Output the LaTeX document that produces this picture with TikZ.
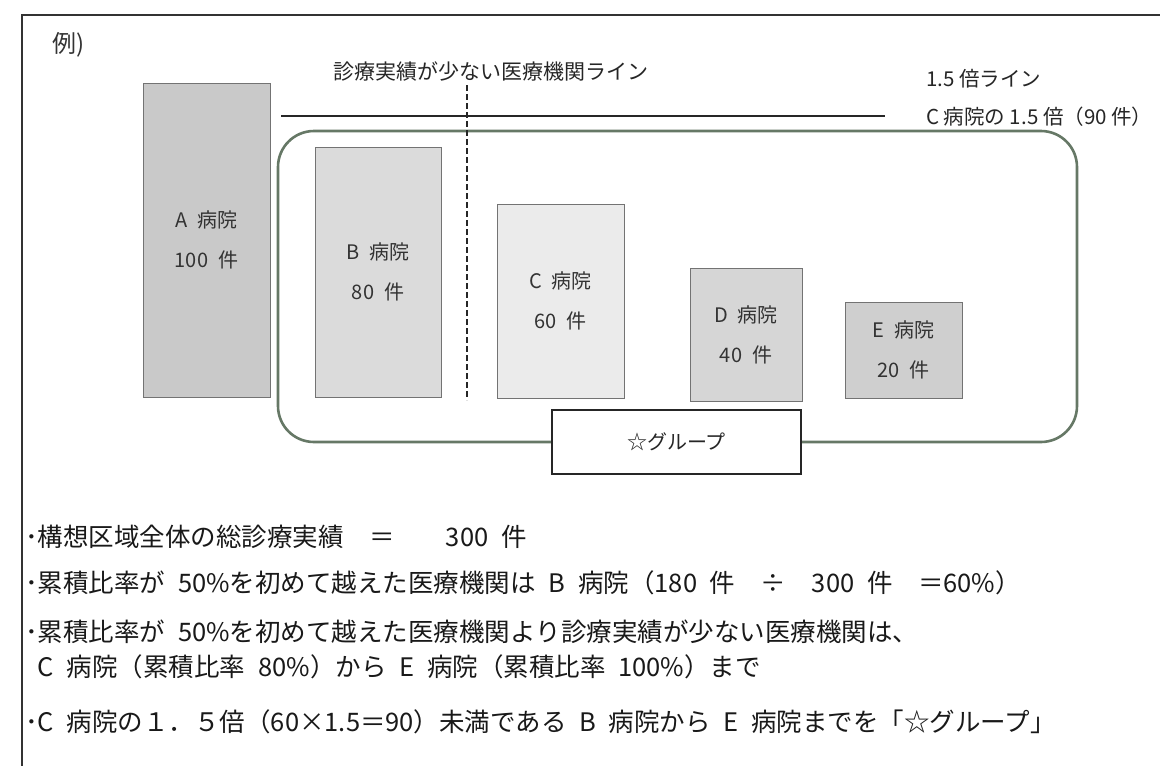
\documentclass[tikz,border=0pt]{standalone}
\usepackage{fontspec}
\setmainfont{Noto Sans CJK JP}
\begin{document}
\begin{tikzpicture}[x=1pt,y=-1pt,
  bar/.style={draw=black!55, line width=0.8pt, anchor=north west, inner sep=0pt, outer sep=0pt},
  barlabel/.style={align=center, text=black!80, font=\fontsize{20}{40}\selectfont},
  toplabel/.style={anchor=west, text=black!85, font=\fontsize{20.5}{22}\selectfont, inner sep=0pt},
  bullet/.style={anchor=west, text=black!90, font=\fontsize{25.5}{35}\selectfont, inner sep=0pt, align=left}]
\useasboundingbox (0,0) rectangle (1160,766);
\fill[white] (0,0) rectangle (1160,766);
% frame
\coordinate (fbl) at (22,766);
\coordinate (ftl) at (22,15);
\coordinate (ftr) at (1160,15);
\draw[line width=1.2pt, black!80] (fbl) -- (ftl) -- (ftr);
\node[anchor=west, inner sep=0pt, font=\fontsize{24}{26}\selectfont, text=black!80] (rei) at (52,45) {例)};
% title
\node[toplabel, font=\fontsize{21}{22}\selectfont] (title) at (333,71) {診療実績が少ない医療機関ライン};
\node[toplabel] (t15) at (926,79) {1.5 倍ライン};
\node[toplabel] (t90) at (926,117) {C 病院の 1.5 倍（90 件）};
% group rounded rectangle
\node[draw=black!65!green!20!gray, line width=2.6pt, rounded corners=36pt, minimum width=799pt, minimum height=311pt, anchor=north west, inner sep=0pt, outer sep=0pt] (grp) at (278,131) {};
% bars
\node[bar, fill=black!21, minimum width=127pt, minimum height=314pt] (A) at (143,83) {};
\node[bar, fill=black!14, minimum width=126pt, minimum height=250pt] (B) at (315,147) {};
\node[bar, fill=red!3!black!8, minimum width=127pt, minimum height=194pt] (C) at (497,204) {};
\node[bar, fill=black!16, minimum width=112pt, minimum height=133pt] (D) at (690,268) {};
\node[bar, fill=black!19, minimum width=117pt, minimum height=96pt] (E) at (845,302) {};
\node[barlabel] (Al) at (A.center) {A\enspace 病院\\100\enspace 件};
\node[barlabel] (Bl) at (B.center) {B\enspace 病院\\80\enspace 件};
\node[barlabel] (Cl) at (C.center) {C\enspace 病院\\60\enspace 件};
\node[barlabel] (Dl) at (D.center) {D\enspace 病院\\40\enspace 件};
\node[barlabel] (El) at (E.center) {E\enspace 病院\\20\enspace 件};
% lines
\coordinate (h1) at (281,116);
\coordinate (h2) at (885,116);
\draw[line width=1.1pt, black!85] (h1) -- (h2);
\coordinate (d1) at (467,85);
\coordinate (d2) at (467,400);
\draw[line width=1.1pt, black!85, dash pattern=on 6pt off 3pt] (d1) -- (d2);
% group label
\node[draw=black!85, fill=white, line width=1.2pt, minimum width=249pt, minimum height=64pt, inner sep=0pt, font=\fontsize{20}{22}\selectfont, text=black!85] (glabel) at (676.5,442) {☆グループ};
% bullets
\node[bullet] (b1) at (25,537) {･構想区域全体の総診療実績　＝　　300\enspace 件};
\node[bullet] (b2) at (25,583) {･累積比率が\enspace 50\%を初めて越えた医療機関は\enspace B\enspace 病院（180\enspace 件　÷　300\enspace 件　＝60\%）};
\node[bullet] (b3) at (25,649) {･累積比率が\enspace 50\%を初めて越えた医療機関より診療実績が少ない医療機関は、\\\hspace{0.5em}C\enspace 病院（累積比率\enspace 80\%）から\enspace E\enspace 病院（累積比率\enspace 100\%）まで};
\node[bullet] (b4) at (25,722) {･C\enspace 病院の１．５倍（60×1.5＝90）未満である\enspace B\enspace 病院から\enspace E\enspace 病院までを「☆グループ」};
\end{tikzpicture}
\end{document}
